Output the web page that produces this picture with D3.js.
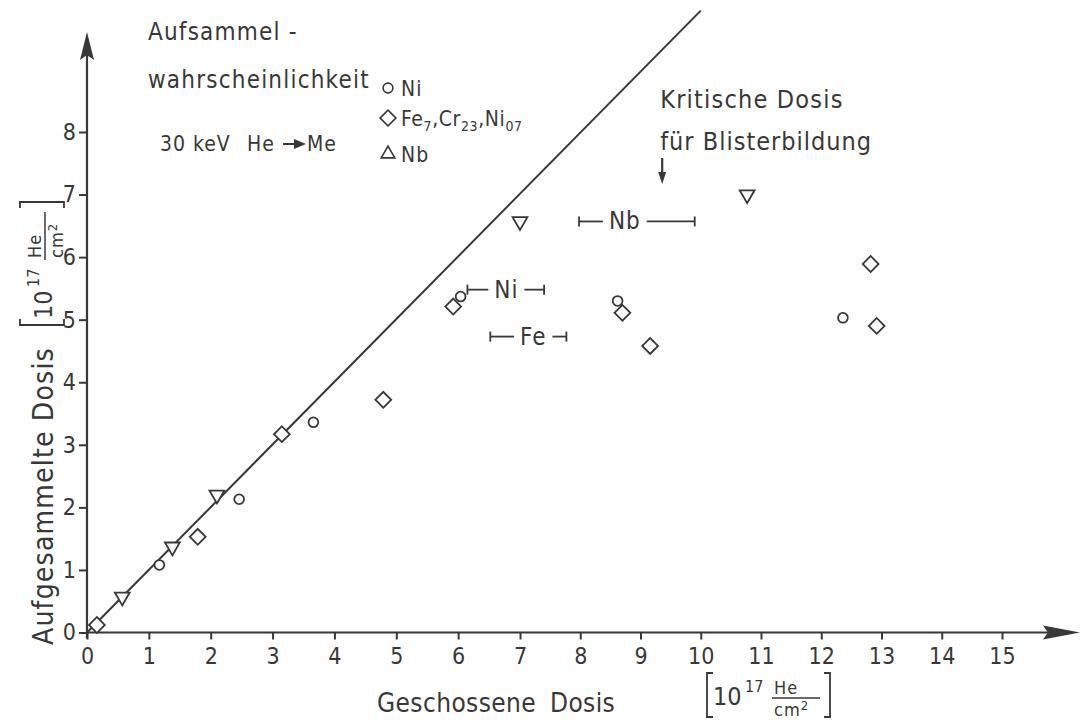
<!DOCTYPE html>
<html>
<head>
<meta charset="utf-8">
<script src="https://cdn.jsdelivr.net/npm/d3@7"></script>
<style>
  body { margin: 0; background: #fff; }
  svg text { font-family: "DejaVu Sans Condensed", "DejaVu Sans", sans-serif; fill: #383838; }
</style>
</head>
<body>
<svg id="chart" width="1081" height="721"></svg>
<script>
// Collected vs. implanted helium dose, 30 keV He into metals
const niDose = [1.17, 2.46, 3.66, 6.04, 8.62, 12.36];
const niColl = [1.08, 2.13, 3.36, 5.37, 5.30, 5.03];

const feDose = [0.16, 1.79, 3.15, 4.79, 5.92, 8.70, 9.16, 12.82, 12.92];
const feColl = [0.12, 1.53, 3.17, 3.72, 5.21, 5.11, 4.58, 5.89, 4.90];

const nbDose = [0.57, 1.38, 2.10, 7.00, 10.77];
const nbColl = [0.57, 1.37, 2.20, 6.57, 7.00];

// full collection (collected = implanted)
const diagDose = [0, 10.0];
const diagColl = [0, 9.94];

// critical dose ranges for blistering
const rangeLabel = ["Nb", "Ni", "Fe"];
const rangeLo    = [7.98, 6.15, 6.52];
const rangeHi    = [9.90, 7.40, 7.77];
const rangeMid   = [8.74, 6.78, 7.22];
const rangeLevel = [6.57, 5.48, 4.73];
const criticalArrowDose = 9.36;

const xTicks = d3.range(0, 16);
const yTicks = d3.range(0, 9);

const ink = "#383838";
const svg = d3.select("#chart");

const x = d3.scaleLinear().domain([0, 7, 15]).range([87, 520, 1002]);
const y = d3.scaleLinear().domain([0, 8]).range([632.5, 132]);

// ---- axes ----
const gx = svg.append("g")
  .attr("transform", `translate(0,${y(0)})`)
  .call(d3.axisBottom(x).tickValues(xTicks).tickSize(7).tickSizeOuter(0).tickPadding(8));
gx.select(".domain").remove();
gx.selectAll(".tick line").attr("stroke", ink).attr("stroke-width", 2);
gx.selectAll(".tick text").attr("font-size", 23).attr("font-family", null).attr("fill", ink);

const gy = svg.append("g")
  .attr("transform", `translate(${x(0)},0)`)
  .call(d3.axisLeft(y).tickValues(yTicks).tickSize(8).tickSizeOuter(0).tickPadding(3));
gy.select(".domain").remove();
gy.selectAll(".tick line").attr("stroke", ink).attr("stroke-width", 2);
gy.selectAll(".tick text").attr("font-size", 23).attr("font-family", null).attr("fill", ink);

// axis lines with arrow heads
svg.append("line").attr("x1", x(0)).attr("x2", 1050).attr("y1", y(0)).attr("y2", y(0))
  .attr("stroke", ink).attr("stroke-width", 2.2);
svg.append("path").attr("d", `M1080,${y(0)} L1043,${y(0) - 7} L1048,${y(0)} L1043,${y(0) + 7} Z`)
  .attr("fill", ink);
svg.append("line").attr("x1", x(0)).attr("x2", x(0)).attr("y1", y(0) + 6).attr("y2", 50)
  .attr("stroke", ink).attr("stroke-width", 2.2);
svg.append("path").attr("d", `M${x(0)},32 L${x(0) - 7},60 L${x(0)},55 L${x(0) + 7},60 Z`)
  .attr("fill", ink);

// unit label [10^17 He/cm^2]
function unitLabel(g) {
  g.append("path").attr("d", "M6,-32 L0,-32 L0,12 L6,12").attr("fill", "none")
    .attr("stroke", ink).attr("stroke-width", 1.8);
  g.append("text").attr("x", 6).attr("y", 0).attr("font-size", 25).text("10");
  g.append("text").attr("x", 38).attr("y", -13).attr("font-size", 16).text("17");
  g.append("text").attr("x", 67).attr("y", -11).attr("font-size", 18).attr("letter-spacing", 1).text("He");
  g.append("line").attr("x1", 65).attr("x2", 113).attr("y1", -7).attr("y2", -7)
    .attr("stroke", ink).attr("stroke-width", 1.5);
  const c = g.append("text").attr("x", 67).attr("y", 11).attr("font-size", 18).attr("letter-spacing", 1);
  c.append("tspan").text("cm");
  c.append("tspan").attr("dy", -6).attr("font-size", 13).text("2");
  g.append("path").attr("d", "M117,-32 L123,-32 L123,12 L117,12").attr("fill", "none")
    .attr("stroke", ink).attr("stroke-width", 1.8);
}

// x-axis title
const xt = svg.append("text").attr("x", 377).attr("y", 712).attr("font-size", 26).attr("letter-spacing", 0.4);
xt.append("tspan").text("Geschossene");
xt.append("tspan").attr("x", 550).text("Dosis");
unitLabel(svg.append("g").attr("transform", "translate(707,705)"));

// y-axis title
svg.append("text").attr("transform", "translate(53,645) rotate(-90)")
  .attr("font-size", 28).attr("letter-spacing", 1.2).text("Aufgesammelte Dosis");
unitLabel(svg.append("g").attr("transform", "translate(52,325) rotate(-90)"));

// ---- diagonal ----
svg.append("path")
  .datum(diagDose.map((d, i) => [d, diagColl[i]]))
  .attr("d", d3.line().x(d => x(d[0])).y(d => y(d[1])))
  .attr("fill", "none").attr("stroke", ink).attr("stroke-width", 2);

// ---- markers ----
const mk = { fill: "#fff", stroke: ink, sw: 1.8 };
const circle = d3.symbol().type(d3.symbolCircle).size(75);
const diamond = d3.symbol().type(d3.symbolSquare).size(125);
const triDown = d3.symbol().type(d3.symbolTriangle).size(95);

function markers(xs, ys, sym, rot, cls) {
  svg.append("g").attr("class", cls).selectAll("path")
    .data(xs.map((d, i) => [d, ys[i]]))
    .join("path")
    .attr("d", sym)
    .attr("transform", d => `translate(${x(d[0])},${y(d[1])}) rotate(${rot})`)
    .attr("fill", mk.fill).attr("stroke", mk.stroke).attr("stroke-width", mk.sw);
}
markers(feDose, feColl, diamond, 45, "fe");
markers(niDose, niColl, circle, 0, "ni");
markers(nbDose, nbColl, triDown, 180, "nb");

// ---- critical-dose ranges ----
rangeLabel.forEach((lab, i) => {
  const g = svg.append("g");
  const yy = y(rangeLevel[i]);
  const t = g.append("text").attr("x", x(rangeMid[i])).attr("y", yy)
    .attr("text-anchor", "middle").attr("dominant-baseline", "central")
    .attr("font-size", 24).attr("letter-spacing", 1).text(lab);
  const w = t.node().getComputedTextLength();
  const l1 = x(rangeMid[i]) - w / 2 - 6, r1 = x(rangeMid[i]) + w / 2 + 6;
  [[x(rangeLo[i]), l1], [r1, x(rangeHi[i])]].forEach(s => {
    g.append("line").attr("x1", s[0]).attr("x2", s[1]).attr("y1", yy).attr("y2", yy)
      .attr("stroke", ink).attr("stroke-width", 1.8);
  });
  [x(rangeLo[i]), x(rangeHi[i])].forEach(px => {
    g.append("line").attr("x1", px).attr("x2", px).attr("y1", yy - 5).attr("y2", yy + 5)
      .attr("stroke", ink).attr("stroke-width", 1.8);
  });
});

// ---- annotation: critical dose ----
const ax = x(criticalArrowDose);
svg.append("text").attr("x", ax - 2).attr("y", 108).attr("font-size", 25).attr("letter-spacing", 1.2)
  .text("Kritische Dosis");
svg.append("text").attr("x", ax - 2).attr("y", 150).attr("font-size", 25).attr("letter-spacing", 1)
  .text("für Blisterbildung");
svg.append("line").attr("x1", ax).attr("x2", ax).attr("y1", 158).attr("y2", 174)
  .attr("stroke", ink).attr("stroke-width", 2.2);
svg.append("path").attr("d", `M${ax},184 L${ax - 4},172 L${ax + 4},172 Z`).attr("fill", ink);

// ---- heading and legend ----
svg.append("text").attr("x", 148).attr("y", 40).attr("font-size", 24).attr("letter-spacing", 1.2)
  .text("Aufsammel -");
svg.append("text").attr("x", 148).attr("y", 88).attr("font-size", 24).attr("letter-spacing", 1.2)
  .text("wahrscheinlichkeit");
svg.append("text").attr("x", 160).attr("y", 151).attr("font-size", 21).attr("letter-spacing", 1)
  .text("30 keV");
svg.append("text").attr("x", 247).attr("y", 151).attr("font-size", 21).attr("letter-spacing", 1)
  .text("He");
svg.append("line").attr("x1", 283).attr("x2", 296).attr("y1", 144).attr("y2", 144)
  .attr("stroke", ink).attr("stroke-width", 2);
svg.append("path").attr("d", "M306,144 L294,139 L294,149 Z").attr("fill", ink);
svg.append("text").attr("x", 307).attr("y", 151).attr("font-size", 21).attr("letter-spacing", 1)
  .text("Me");

const legX = 388;
const legend = [
  { sym: circle, rot: 0, y: 88 },
  { sym: diamond, rot: 45, y: 118 },
  { sym: d3.symbol().type(d3.symbolTriangle).size(80), rot: 0, y: 154 }
];
svg.append("g").selectAll("path").data(legend).join("path")
  .attr("d", d => d.sym())
  .attr("transform", d => `translate(${legX},${d.y}) rotate(${d.rot})`)
  .attr("fill", "#fff").attr("stroke", ink).attr("stroke-width", 1.6);

svg.append("text").attr("x", 401).attr("y", 96).attr("font-size", 21).attr("letter-spacing", 1).text("Ni");
const fe = svg.append("text").attr("x", 401).attr("y", 126).attr("font-size", 21).attr("letter-spacing", 0.6);
fe.append("tspan").text("Fe");
fe.append("tspan").attr("dy", 5).attr("font-size", 14).text("7");
fe.append("tspan").attr("dy", -5).text(",Cr");
fe.append("tspan").attr("dy", 5).attr("font-size", 14).text("23");
fe.append("tspan").attr("dy", -5).text(",Ni");
fe.append("tspan").attr("dy", 5).attr("font-size", 14).text("07");
svg.append("text").attr("x", 401).attr("y", 162).attr("font-size", 21).attr("letter-spacing", 1).text("Nb");
</script>
</body>
</html>
